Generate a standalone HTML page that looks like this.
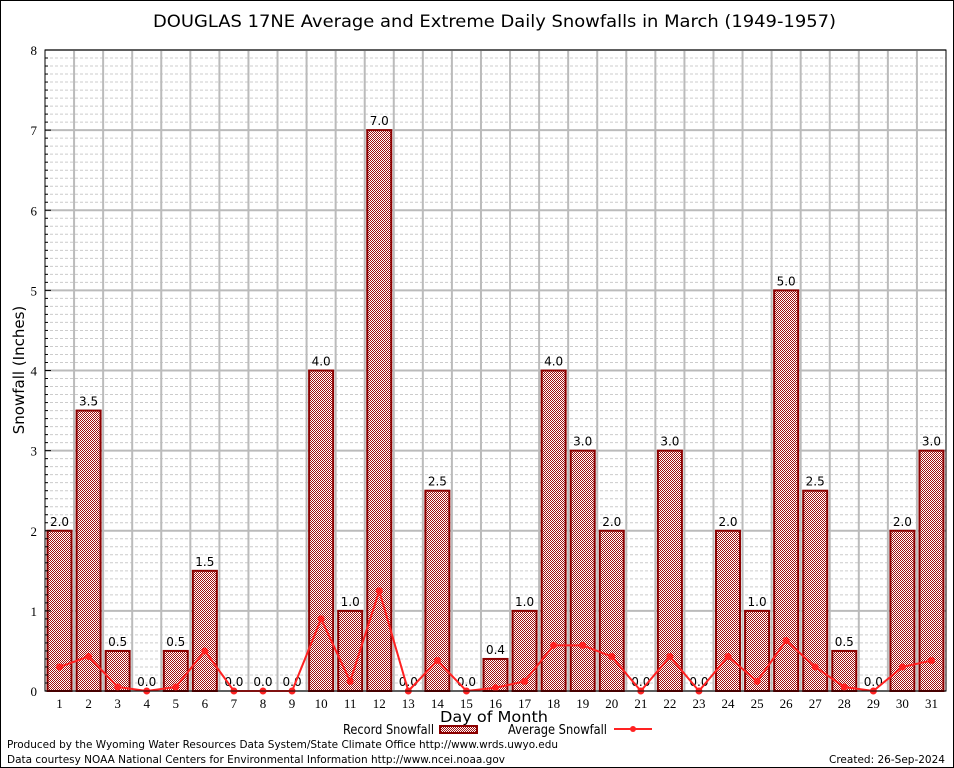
<!DOCTYPE html>
<html><head><meta charset="utf-8"><style>
body{margin:0;background:#fff}
svg{display:block;font-family:"DejaVu Sans","Liberation Sans",sans-serif}
</style></head><body>
<svg id="c" width="954" height="768" viewBox="0 0 954 768">
<defs>
<pattern id="hatch" width="2" height="2" patternUnits="userSpaceOnUse">
<rect width="2" height="2" fill="#fff"/>
<rect width="1" height="1" fill="#a01010"/>
<rect x="1" y="1" width="1" height="1" fill="#a01010"/>
</pattern>
</defs>
<rect x="0.5" y="0.5" width="953" height="767" fill="#fff" stroke="#000"/>
<text x="153" y="27" textLength="683" lengthAdjust="spacingAndGlyphs" font-size="17">DOUGLAS 17NE Average and Extreme Daily Snowfalls in March (1949-1957)</text>
<g id="grid"></g>
<g id="bars"></g>
<g id="line"></g>
<g id="axes"></g>
<text transform="translate(24,370) rotate(-90)" text-anchor="middle" font-size="15">Snowfall (Inches)</text>
<text x="440" y="722" textLength="108" lengthAdjust="spacingAndGlyphs" font-size="15">Day of Month</text>
<g>
<text x="343" y="734" textLength="91" lengthAdjust="spacingAndGlyphs" font-size="13">Record Snowfall</text>
<rect x="440" y="726" width="37" height="7" fill="url(#hatch)" stroke="#8b0000" stroke-width="2"/>
<text x="508" y="734" textLength="99" lengthAdjust="spacingAndGlyphs" font-size="13">Average Snowfall</text>
<line x1="614" y1="729" x2="652" y2="729" stroke="#f22" stroke-width="2"/>
<circle cx="633" cy="729" r="3" fill="#f22"/>
</g>
<text x="7" y="748" textLength="551" lengthAdjust="spacingAndGlyphs" font-size="11">Produced by the Wyoming Water Resources Data System/State Climate Office http://www.wrds.uwyo.edu</text>
<text x="7" y="763" textLength="498" lengthAdjust="spacingAndGlyphs" font-size="11">Data courtesy NOAA National Centers for Environmental Information http://www.ncei.noaa.gov</text>
<text x="829" y="763" textLength="116" lengthAdjust="spacingAndGlyphs" font-size="11">Created: 26-Sep-2024</text>
</svg>
<script>
const days=[1,2,3,4,5,6,7,8,9,10,11,12,13,14,15,16,17,18,19,20,21,22,23,24,25,26,27,28,29,30,31];
const recordSnow=[2.0,3.5,0.5,0.0,0.5,1.5,0.0,0.0,0.0,4.0,1.0,7.0,0.0,2.5,0.0,0.4,1.0,4.0,3.0,2.0,0.0,3.0,0.0,2.0,1.0,5.0,2.5,0.5,0.0,2.0,3.0];
const avgSnow=[0.3,0.43,0.05,0,0.05,0.5,0,0,0,0.9,0.12,1.25,0,0.38,0,0.04,0.12,0.57,0.57,0.43,0,0.43,0,0.43,0.12,0.63,0.3,0.05,0,0.3,0.38];
const yTicks=[0,1,2,3,4,5,6,7,8];
const L=45,R=946,T=50,B=691,yMax=8;
const bw=(R-L)/days.length;
const x=d=>L+(d-0.5)*bw;
const y=v=>B-v/yMax*(B-T);
const NS="http://www.w3.org/2000/svg";
function mk(tag,attrs,parent){const e=document.createElementNS(NS,tag);for(const k in attrs)e.setAttribute(k,attrs[k]);document.getElementById(parent).appendChild(e);return e;}
for(let v=0;v<=yMax*10;v++){const yy=y(v/10);
 if(v%10===0){const g=mk('line',{x1:L,x2:R,y1:yy,y2:yy,stroke:'#bbb','stroke-width':2},'grid');
  }
 else{const g=mk('line',{x1:L,x2:R,y1:yy,y2:yy,stroke:'#ccc','stroke-width':1,'stroke-dasharray':'3,2'},'grid');
  }}
for(let i=1;i<days.length;i++){const xx=L+i*bw;const g=mk('line',{x1:xx,x2:xx,y1:T,y2:B,stroke:'#bbb','stroke-width':2},'grid');
 }
days.forEach((d,i)=>{const v=recordSnow[i];
 if(v>0){const r=mk('rect',{x:x(d)-12,y:y(v),width:24,height:B-y(v),fill:'url(#hatch)',stroke:'#8b0000','stroke-width':2},'bars');
  }
 const t=mk('text',{x:x(d),y:y(v)-5,'text-anchor':'middle','font-size':12},'bars');t.textContent=v.toFixed(1);
 });
const pl=mk('polyline',{points:days.map((d,i)=>x(d)+','+y(avgSnow[i])).join(' '),fill:'none',stroke:'#f22','stroke-width':2},'line');

days.forEach((d,i)=>{const c=mk('circle',{cx:x(d),cy:y(avgSnow[i]),r:3.5,fill:'#f22'},'line');
 });
const fr=mk('rect',{x:L,y:T,width:R-L,height:B-T,fill:'none',stroke:'#000','stroke-width':1},'axes');

yTicks.forEach(v=>{const t=mk('text',{x:L-8,y:y(v)+5,'text-anchor':'end','font-size':13,'font-family':'Liberation Serif, serif'},'axes');t.textContent=v;
 });
for(let v=0;v<=yMax*10;v++){const yy=y(v/10);const tl=mk('line',{x1:L,x2:L+(v%10?3:6),y1:yy,y2:yy,stroke:'#000'},'axes');
 }
days.forEach(d=>{const t=mk('text',{x:x(d),y:B+17,'text-anchor':'middle','font-size':13,'font-family':'Liberation Serif, serif'},'axes');t.textContent=d;
 });
</script>
</body></html>
